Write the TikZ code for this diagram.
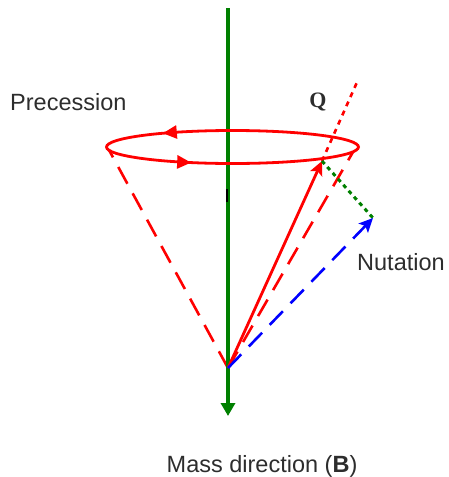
\documentclass[tikz,border=0pt]{standalone}
\usepackage{fontspec}
\setmainfont{Liberation Sans}
\newfontfamily\qfont{Liberation Serif}
\usetikzlibrary{arrows.meta,decorations.markings}
\definecolor{gr}{RGB}{0,128,0}
\definecolor{txt}{RGB}{45,45,45}
\begin{document}
\begin{tikzpicture}[x=1pt,y=-1pt,
  lbl/.style={font=\fontsize{23.5}{28}\selectfont, inner sep=0pt, text=txt},
  redline/.style={red, line width=2.8pt},
  reddash/.style={red, line width=2.6pt, dash pattern=on 19pt off 11pt},
  qtip/.tip={Stealth[length=14pt,width=13pt,inset=3pt]}]
\useasboundingbox (0,0) rectangle (449,477);
% coordinates
\coordinate (T) at (228,8);
\coordinate (Bt) at (228,416);
\coordinate (O) at (228,368);
\coordinate (P) at (322,161);
\coordinate (Qe) at (358,80);
\coordinate (N) at (373,218);
\coordinate (L) at (109,150);
\coordinate (R) at (353,152);
\coordinate (K1) at (227,189);
\coordinate (K2) at (227,202);
% cone dashed sides
\draw[reddash] (O) -- (L);
\draw[reddash] (O) -- (R);
% green axis
\draw[gr, line width=4.5pt, -{Triangle[length=13pt,width=14pt]}] (T) -- (Bt);
\draw[black, line width=1.6pt] (K1) -- (K2);
% ellipse
\draw[redline, decoration={markings,
   mark=at position 0.33 with {\arrowreversed{Triangle[length=14pt,width=13pt]}},
   mark=at position 0.615 with {\arrowreversed{Triangle[length=14pt,width=13pt]}}},
   postaction=decorate] (232.5,147) ellipse [x radius=126, y radius=16.5];
% Q vector
\draw[redline, -{qtip}] (O) -- (P);
\draw[red, line width=2.6pt, dash pattern=on 5pt off 5pt] (P) -- (Qe);
% nutation
\draw[gr, line width=3pt, dash pattern=on 4pt off 4pt] (P) -- (N);
\draw[blue, line width=2.6pt, dash pattern=on 19pt off 11pt, -{qtip}] (O) -- (N);
% labels
\node[lbl, anchor=west] (prec) at (10,102) {Precession};
\node[inner sep=0pt, text=txt, font=\fontsize{22}{26}\selectfont\qfont\bfseries] (q) at (318,102) {Q};
\node[lbl, anchor=west] (nut) at (357,262) {Nutation};
\node[lbl] (mass) at (262,466) {Mass direction (\textbf{B})};
\end{tikzpicture}
\end{document}
